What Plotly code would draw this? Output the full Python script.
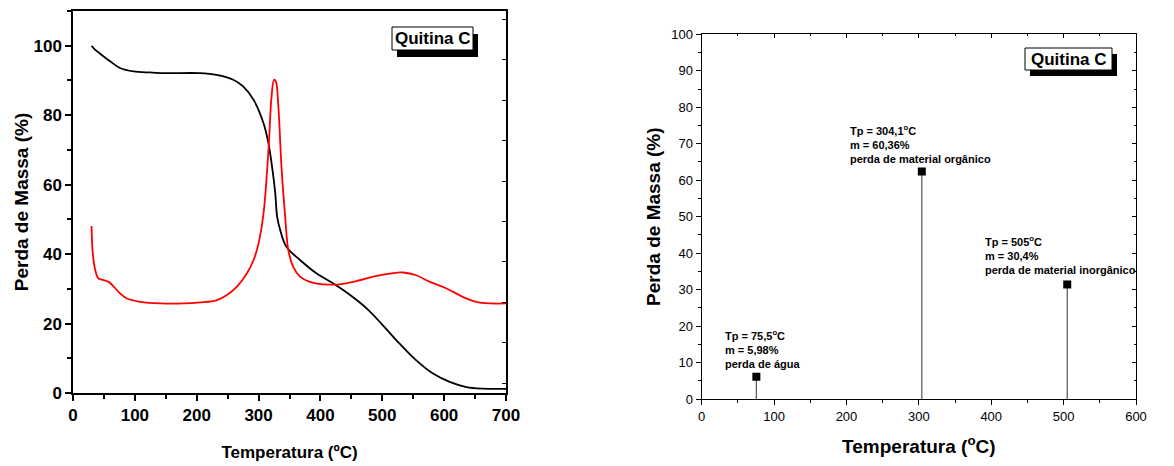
import plotly.graph_objects as go

# ---- Left chart data (TG / DTG) ----
tg_T = [30, 36, 44, 60, 76, 98, 125, 152, 205, 232, 259, 275, 292, 308, 316, 321, 327, 330, 335, 345,
        367, 394, 421, 448, 475, 501, 528, 555, 582, 609, 636, 663, 700]
tg_m = [100, 98.8, 97.7, 95.5, 93.6, 92.6, 92.3, 92.1, 92.1, 91.6, 90.2, 88.3, 84.4, 77.7, 71.9, 66.2, 57.5,
        50.8, 46.9, 42.1, 38.3, 34.4, 31.5, 28.2, 24.3, 19.5, 14.2, 9.4, 5.6, 3.2, 1.7, 1.25, 1.2]

dtg_T = [30, 32, 36, 41, 49.5, 57.6, 66, 76, 87, 109, 141, 179, 205, 232, 249, 265, 281, 292, 300, 308,
         316, 321, 325, 328, 332, 337, 343, 348, 356, 367, 383, 405, 431, 458, 485, 512, 534, 555, 577,
         604, 630, 652, 674, 700]
dtg_v = [48.1, 40.2, 35.4, 33.0, 32.5, 32.0, 30.6, 28.7, 27.2, 26.25, 25.8, 25.8, 26.1, 26.7, 28.2, 30.6,
         34.4, 38.3, 43.1, 51.7, 70, 85.4, 90.2, 89.7, 82.5, 65.2, 50.8, 41.2, 36.3, 33.5, 32.0, 31.3, 31.3,
         32.2, 33.5, 34.4, 34.7, 33.9, 32.0, 30.1, 27.7, 26.25, 25.8, 25.8]

# ---- Right chart data (peak summary) ----
peak_T = [75.5, 304.1, 505]
peak_m = [6.1, 62.4, 31.4]
peak_labels = [
    "Tp = 75,5<sup>o</sup>C<br>m = 5,98%<br>perda de água",
    "Tp = 304,1<sup>o</sup>C<br>m = 60,36%<br>perda de material orgânico",
    "Tp = 505<sup>o</sup>C<br>m = 30,4%<br>perda de material inorgânico",
]
label_pos_T = [30, 202, 388]
label_pos_m = [20.0, 76.2, 45.8]

W, H = 1174, 466
def px(x):
    return x / W
def py(y):
    return 1 - y / H

FONT = "Liberation Sans, Arial, sans-serif"

fig = go.Figure()

fig.add_trace(go.Scatter(x=tg_T, y=tg_m, mode="lines", line=dict(color="black", width=1.8, shape="spline"),
                         xaxis="x", yaxis="y", hoverinfo="skip"))
fig.add_trace(go.Scatter(x=dtg_T, y=dtg_v, mode="lines", line=dict(color="#ff0000", width=1.8, shape="spline"),
                         xaxis="x", yaxis="y", hoverinfo="skip"))
# invisible trace to activate secondary right axis of left chart
fig.add_trace(go.Scatter(x=[tg_T[0]], y=[0], mode="markers", marker=dict(opacity=0), xaxis="x", yaxis="y2",
                         hoverinfo="skip"))

# stems
for t, m in zip(peak_T, peak_m):
    fig.add_trace(go.Scatter(x=[t, t], y=[0, m], mode="lines", line=dict(color="#555555", width=1.2),
                             xaxis="x3", yaxis="y3", hoverinfo="skip"))
fig.add_trace(go.Scatter(x=peak_T, y=peak_m, mode="markers",
                         marker=dict(symbol="square", size=8, color="black"),
                         xaxis="x3", yaxis="y3", hoverinfo="skip"))
# invisible trace for mirrored inside-tick axes
fig.add_trace(go.Scatter(x=peak_T, y=peak_m, mode="markers", marker=dict(opacity=0),
                         xaxis="x4", yaxis="y4", hoverinfo="skip"))

left_dom_x = [px(73), px(506)]
left_dom_y = [py(393), py(11)]
right_dom_x = [px(701.7), px(1136)]
right_dom_y = [py(399), py(34.3)]

bold_tick = dict(family=FONT, size=17, color="black", weight="bold")
reg_tick = dict(family=FONT, size=13, color="black")

fig.update_layout(
    width=W, height=H, margin=dict(l=0, r=0, t=0, b=0),
    paper_bgcolor="white", plot_bgcolor="white", showlegend=False,
    xaxis=dict(domain=left_dom_x, anchor="y", range=[0, 700], dtick=100, tick0=0, automargin=False,
               ticks="outside", ticklen=6, tickwidth=1.5, tickcolor="black",
               minor=dict(dtick=50, ticklen=4, tickwidth=1.5, tickcolor="black", ticks="outside"),
               showline=True, linecolor="black", linewidth=1.5, mirror=True, showgrid=False, zeroline=False,
               tickfont=bold_tick,
               title=dict(text="<b>Temperatura (ºC)</b>", font=dict(family=FONT, size=17, color="black"),
                          standoff=22)),
    yaxis=dict(domain=left_dom_y, anchor="x", range=[0, 110], dtick=20, tick0=0, automargin=False,
               ticks="outside", ticklen=6, tickwidth=1.5, tickcolor="black",
               minor=dict(dtick=10, ticklen=4, tickwidth=1.5, tickcolor="black", ticks="outside"),
               showline=True, linecolor="black", linewidth=1.5, mirror=True, showgrid=False, zeroline=False,
               tickfont=bold_tick,
               title=dict(text="<b>Perda de Massa (%)</b>", font=dict(family=FONT, size=19, color="black"),
                          standoff=0)),
    yaxis2=dict(overlaying="y", anchor="x", side="right", range=[-0.2475, 9.21], dtick=1, tick0=0,
                automargin=False,
                ticks="inside", ticklen=4, tickwidth=1.2, tickcolor="black", showticklabels=False,
                showline=False, showgrid=False, zeroline=False),
    xaxis3=dict(domain=right_dom_x, anchor="y3", range=[0, 600], dtick=100, tick0=0, automargin=False,
                ticks="outside", ticklen=5, tickwidth=1.2, tickcolor="black",
                minor=dict(dtick=50, ticklen=3, tickwidth=1.2, tickcolor="black", ticks="outside"),
                showline=True, linecolor="black", linewidth=1.3, mirror=True, showgrid=False, zeroline=False,
                tickfont=reg_tick,
                title=dict(text="<b>Temperatura (<sup>o</sup>C)</b>", font=dict(family=FONT, size=19, color="black"),
                           standoff=16)),
    yaxis3=dict(domain=right_dom_y, anchor="x3", range=[0, 100], dtick=10, tick0=0, automargin=False,
                ticks="outside", ticklen=5, tickwidth=1.2, tickcolor="black",
                minor=dict(dtick=5, ticklen=3, tickwidth=1.2, tickcolor="black", ticks="outside"),
                showline=True, linecolor="black", linewidth=1.3, mirror=True, showgrid=False, zeroline=False,
                tickfont=reg_tick,
                title=dict(text="<b>Perda de Massa (%)</b>", font=dict(family=FONT, size=19, color="black"),
                           standoff=5)),
    xaxis4=dict(overlaying="x3", anchor="y4", side="top", range=[0, 600], dtick=100, tick0=0, automargin=False,
                ticks="inside", ticklen=4, tickwidth=1.2, tickcolor="black", showticklabels=False,
                minor=dict(dtick=50, ticklen=2, tickwidth=1.2, tickcolor="black", ticks="inside"),
                showline=False, showgrid=False, zeroline=False),
    yaxis4=dict(overlaying="y3", anchor="x4", side="right", range=[0, 100], dtick=10, tick0=0, automargin=False,
                ticks="inside", ticklen=4, tickwidth=1.2, tickcolor="black", showticklabels=False,
                minor=dict(dtick=5, ticklen=2, tickwidth=1.2, tickcolor="black", ticks="inside"),
                showline=False, showgrid=False, zeroline=False),
)

# peak annotations
for lab, t, m in zip(peak_labels, label_pos_T, label_pos_m):
    fig.add_annotation(x=t, y=m, xref="x3", yref="y3", text="<b>" + lab + "</b>", showarrow=False,
                       xanchor="left", yanchor="top", align="left",
                       font=dict(family=FONT, size=11, color="black"))

# "Quitina C" boxes with drop shadow
def legend_box(x0, y0, x1, y1, dx, dy):
    fig.add_shape(type="rect", xref="paper", yref="paper", x0=px(x0 + dx), x1=px(x1 + dx),
                  y0=py(y1 + dy), y1=py(y0 + dy), fillcolor="black", line=dict(width=0), layer="above")
    fig.add_shape(type="rect", xref="paper", yref="paper", x0=px(x0), x1=px(x1),
                  y0=py(y1), y1=py(y0), fillcolor="white", line=dict(color="black", width=1), layer="above")
    fig.add_annotation(x=px((x0 + x1) / 2), y=py((y0 + y1) / 2), xref="paper", yref="paper",
                       text="<b>Quitina C</b>", showarrow=False, xanchor="center", yanchor="middle",
                       font=dict(family=FONT, size=17, color="black"))

legend_box(392, 27, 473, 50, 5, 7)
legend_box(1025, 48, 1112, 70, 5, 6)

fig.write_html("out.html", config={"displayModeBar": False},
               post_script="document.body.style.margin='0px';")
